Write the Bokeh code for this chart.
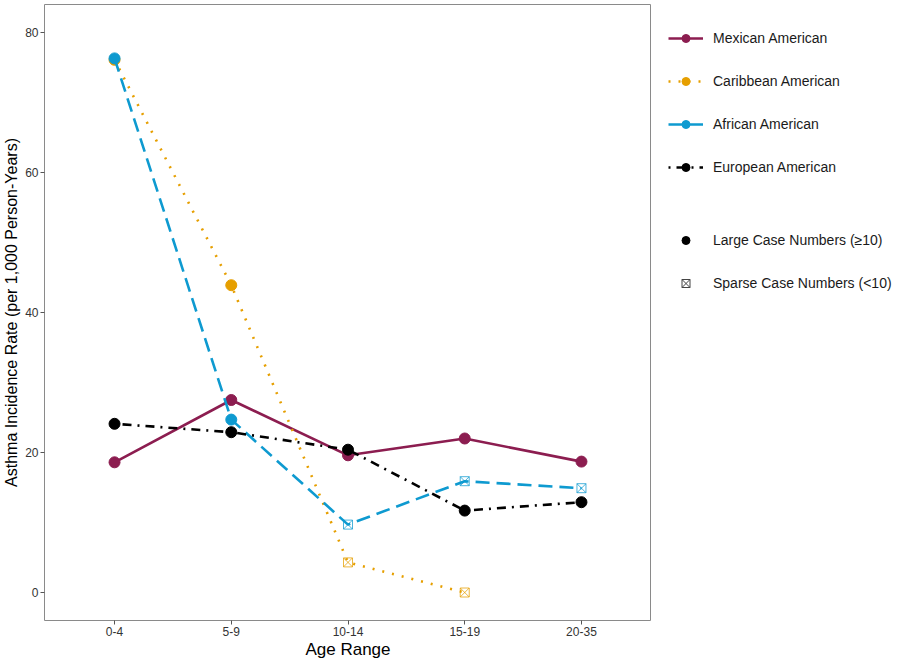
from bokeh.plotting import figure
from bokeh.models import FactorRange, Range1d, FixedTicker, Legend, LegendItem
from bokeh.layouts import row
from bokeh.embed import file_html
from bokeh.resources import INLINE

# ---- data ----
ages = ["0-4", "5-9", "10-14", "15-19", "20-35"]

mexican = [18.6, 27.5, 19.6, 22.0, 18.7]
mexican_sparse = [False, False, False, False, False]

caribbean = [76.1, 43.9, 4.3, 0.0]
caribbean_sparse = [False, False, True, True]

african = [76.3, 24.7, 9.7, 15.9, 14.9]
african_sparse = [False, False, True, True, True]

european = [24.1, 22.9, 20.4, 11.7, 12.9]
european_sparse = [False, False, False, False, False]

series = [
    ("Mexican American", mexican, mexican_sparse, "#8C1D50", "solid"),
    ("Caribbean American", caribbean, caribbean_sparse, "#E69F00", "2 8"),
    ("African American", african, african_sparse, "#0E9AD0", "14 7"),
    ("European American", european, european_sparse, "#000000", "2 6 9 6"),
]
y_ticks = [0, 20, 40, 60, 80]
size_labels = ["Large Case Numbers (\u226510)", "Sparse Case Numbers (<10)"]

FONT = "Liberation Sans"
FW, FH = 607, 616
TOP = 4

p = figure(
    x_range=FactorRange(*ages, range_padding=0.1, range_padding_units="absolute"),
    y_range=Range1d(-4.0, 84),
    output_backend="svg",
    toolbar_location=None,
    frame_width=FW,
    frame_height=FH,
    min_border_top=TOP,
    min_border_left=0,
    min_border_bottom=0,
    min_border_right=0,
)
p.grid.visible = False
p.outline_line_color = "#8a8a8a"
p.outline_line_width = 1

for ax in (p.xaxis[0], p.yaxis[0]):
    ax.axis_line_color = None
    ax.major_tick_line_color = "#555555"
    ax.major_tick_out = 4
    ax.major_tick_in = 0
    ax.minor_tick_line_color = None
    ax.major_label_text_font = FONT
    ax.major_label_text_font_size = "12px"
    ax.major_label_text_color = "#333333"
    ax.axis_label_text_font = FONT
    ax.axis_label_text_font_style = "normal"
    ax.axis_label_text_color = "#000000"
    ax.major_label_standoff = 2

p.yaxis[0].ticker = FixedTicker(ticks=y_ticks)
p.yaxis[0].axis_label = "Asthma Incidence Rate (per 1,000 Person-Years)"
p.yaxis[0].axis_label_text_font_size = "16px"
p.yaxis[0].axis_label_standoff = 2
p.xaxis[0].axis_label = "Age Range"
p.xaxis[0].axis_label_text_font_size = "17px"
p.xaxis[0].axis_label_standoff = 1


def draw_series(fig):
    rends = []
    for name, vals, sparse, color, dash in series:
        xs = ages[:len(vals)]
        lr = fig.line(xs, vals, line_color=color, line_width=2.6, line_dash=dash)
        big_x = [x for x, s in zip(xs, sparse) if not s]
        big_y = [v for v, s in zip(vals, sparse) if not s]
        sp_x = [x for x, s in zip(xs, sparse) if s]
        sp_y = [v for v, s in zip(vals, sparse) if s]
        br = fig.scatter(big_x, big_y, marker="circle", size=11, fill_color=color, line_color=color)
        sr = None
        if sp_x:
            sr = fig.scatter(sp_x, sp_y, marker="square_x", size=9, fill_color=None,
                             line_color=color, line_width=1, line_alpha=0.75)
        rends.append((name, lr, br, sr))
    return rends


draw_series(p)

# ---- legend panel: separate figure whose view window lies away from the data ----
LW = 884 - 36 - FW
lf = figure(
    x_range=FactorRange(*ages), y_range=Range1d(1000, 1001),
    output_backend="svg", toolbar_location=None,
    frame_width=LW, frame_height=FH,
    min_border_top=TOP, min_border_bottom=38, min_border_left=0, min_border_right=0,
)
lf.axis.visible = False
lf.grid.visible = False
lf.outline_line_color = None

leg_rends = draw_series(lf)
items1 = [LegendItem(label=name, renderers=[lr, br]) for name, lr, br, sr in leg_rends]

# black symbol keys, built from the European series (all large) and the sparse points
large_r = lf.scatter(ages, european, marker="circle", size=11, fill_color="black", line_color="black")
sp_x = [x for x, s in zip(ages, african_sparse) if s]
sp_y = [v for v, s in zip(african, african_sparse) if s]
sparse_r = lf.scatter(sp_x, sp_y, marker="square_x", size=9, fill_color=None,
                      line_color="#444444", line_width=1)
items2 = [LegendItem(label=size_labels[0], renderers=[large_r]),
          LegendItem(label=size_labels[1], renderers=[sparse_r])]


def make_legend(items, top_offset):
    n = len(items)
    h = n * 20 + (n - 1) * 23
    lg = Legend(items=items, location=(17, FH - top_offset - h))
    lg.glyph_width = 35
    lg.glyph_height = 20
    lg.label_height = 20
    lg.spacing = 23
    lg.padding = 0
    lg.margin = 0
    lg.label_standoff = 10
    lg.label_text_font = FONT
    lg.label_text_font_size = "14px"
    lg.label_text_color = "#1a1a1a"
    lg.border_line_color = None
    lg.background_fill_alpha = 0
    return lg


lf.add_layout(make_legend(items1, 24))
lf.add_layout(make_legend(items2, 226))

layout = row(p, lf)
open("out.html", "w").write(file_html(layout, INLINE))
